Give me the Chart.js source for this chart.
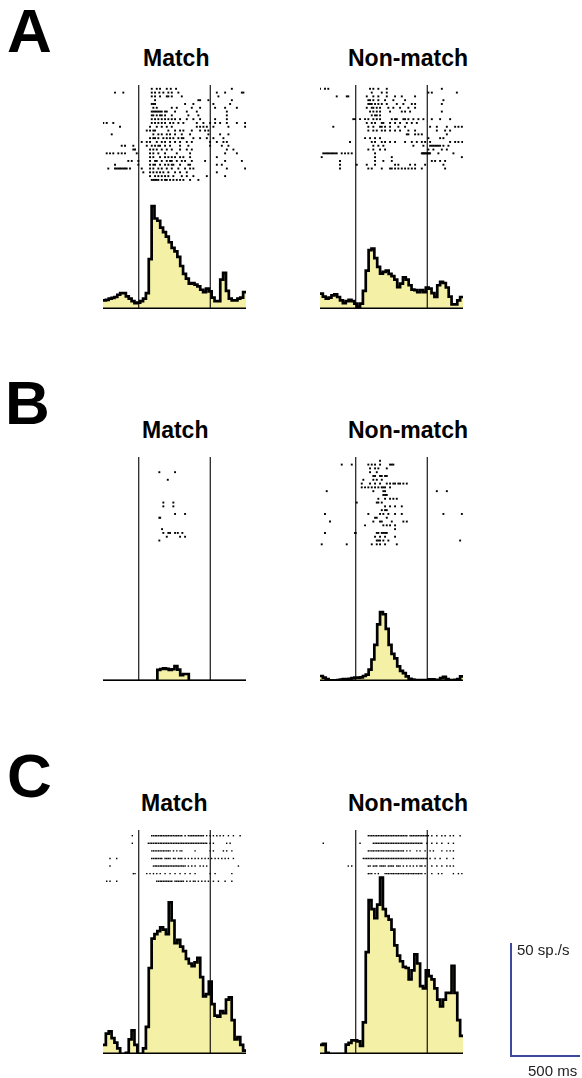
<!DOCTYPE html>
<html>
<head>
<meta charset="utf-8">
<script src="https://cdn.jsdelivr.net/npm/chart.js@4.4.1/dist/chart.umd.min.js"></script>
<style>
html,body{margin:0;padding:0;background:#fff;}
body{width:582px;height:1078px;position:relative;overflow:hidden;font-family:"Liberation Sans",Arial,sans-serif;}
canvas,.t{position:absolute;}
.t{line-height:1;white-space:nowrap;color:#000;font-weight:bold;}
.letter{font-size:62px;}
.title{font-size:23px;}
.scale{font-size:15px;font-weight:normal;color:#222;}
</style>
</head>
<body>
<div class="t letter" style="left:7px;top:0px">A</div>
<div class="t letter" style="left:5px;top:372px">B</div>
<div class="t letter" style="left:7px;top:745px">C</div>

<div class="t title" style="left:143px;top:47px">Match</div>
<div class="t title" style="left:348px;top:47px">Non-match</div>
<div class="t title" style="left:142px;top:419px">Match</div>
<div class="t title" style="left:348px;top:419px">Non-match</div>
<div class="t title" style="left:141px;top:792px">Match</div>
<div class="t title" style="left:348px;top:792px">Non-match</div>

<canvas id="matchA" width="155" height="236" style="left:97px;top:79px"></canvas>
<canvas id="nonA" width="155" height="236" style="left:314px;top:79px"></canvas>
<canvas id="matchB" width="155" height="236" style="left:97px;top:451px"></canvas>
<canvas id="nonB" width="155" height="236" style="left:314px;top:451px"></canvas>
<canvas id="matchC" width="155" height="236" style="left:97px;top:824px"></canvas>
<canvas id="nonC" width="155" height="236" style="left:314px;top:824px"></canvas>
<canvas id="scaleBar" width="81" height="125" style="left:505px;top:937px"></canvas>

<div class="t scale" style="left:517px;top:942px">50 sp./s</div>
<div class="t scale" style="left:528px;top:1063px">500 ms</div>

<script>
// time axis (ms from sample onset), 20 ms bins
const binEdges=[-250,-230,-210,-190,-170,-150,-130,-110,-90,-70,-50,-30,-10,10,30,50,70,90,110,130,150,170,190,210,230,250,270,290,310,330,350,370,390,410,430,450,470,490,510,530,550,570,590,610,630,650,670,690,710,730,750];
const stimOn=0, stimOff=500;

// firing rate (sp/s) per bin
const psthMatchA=[3.8,4,4.6,4.9,5.3,6.3,7,7,5.6,4.6,3.5,2.6,2.8,3.5,4.6,7,22,45.5,40,39,36,34,32,29.5,27,25.5,23,19,15.5,13.4,11.2,11.5,10.8,10,8.5,7.5,9,7.8,5,3.5,3.5,13,16,8,4.6,3.8,3.8,4.6,5,7.5];
const psthNonA=[6.8,5.5,4.6,5,6,6.5,5.3,3.8,2.6,3.5,4,3.5,2.4,1,2.4,8,17,26,26.7,22.5,18.6,15.6,16.4,17,15.5,14.5,13,9.7,11.2,14,13,10.5,8.6,8.3,7.5,8.3,7.5,9.5,9,7,5.3,10.5,12,11.5,9.5,5.5,2,2,3.8,5.3];
const psthMatchB=[0,0,0,0,0,0,0,0,0,0,0,0,0,0,0,0,0,0,0,4.9,5.3,5.6,5.4,4.9,5.2,6.6,5,2.6,3.1,3.1,0,0,0,0,0,0,0,0,0,0,0,0,0,0,0,0,0,0,0,0];
const psthNonB=[2.2,1.5,0.8,0.3,0.3,0.3,0.4,0.6,0.8,0.8,0.9,1.3,1.5,1.5,1.6,2.2,2.8,5,9.5,16,25,30.5,29.5,23,16,12,10,6.5,4.5,3.5,2,1,0.6,0.4,0.4,0.4,0.4,0.3,0.7,0.7,0.5,0.5,1.3,1.8,0.8,0.4,0.4,0.5,0.8,2];
const psthMatchC=[4,9,10,7,5,2.5,0,0,0.5,6.5,10.5,4,0,0,2.5,12,38,51,53,54.3,56,55,53,67,59,49,50.5,47.5,45.5,42,40,38.8,40.5,42.5,34,25.5,26.5,32,22,17,16.5,19,18,24,25,15,6.5,7.5,4,1.5];
const psthNonC=[4,4.5,0.5,0,0,0,0,0,0,4.1,4.9,6,6,5.6,3.6,14,45,68,64,60,66,78,64,61,59.4,55,48,43.5,41,38.5,38,33,37,44,40,30,29,37,34.4,33,29,24,21,24,27,27,39,27,15,8];

// spike times (ms), one array per trial
const rasterMatchA=[
[91,126,149,196,224,261,651],
[-166,-108,91,114,144,172,207,231,277,546,604,721,732],
[91,114,149,196,207,231,301,557],
[114,417,429,487,651],
[91,102,114,324,382,522,639],
[102,126,231,266,371,429,534,604,686],
[91,102,114,126,137,149,161,184,196,254,336,406,616],
[91,102,126,149,161,184,231,347,417,616],
[91,114,137,161,184,207,231,254,289,336,382,429,534,616],
[-248,-224,-178,91,114,137,161,184,219,242,277,312,406,452,499,534,569,616,686,744],
[-131,79,126,161,196,231,406,429,452,476,522,627,744],
[56,79,102,114,207,254,289,312,371,429,464,487],
[-189,102,137,161,196,219,254,301,359,487,569,627],
[79,102,114,137,172,196,219,242,277,301,312,382,429,476,522,592],
[21,56,79,126,161,184,219,254,289,336,371,499,546,592,616],
[-119,-96,-38,56,91,114,137,149,184,219,289,347,499,581,627],
[-38,-26,79,102,126,161,196,231,289,336,371,616,662],
[-224,-201,-178,-143,-119,-96,-14,79,102,137,184,266,359,604,686],
[79,102,149,184,207,231,254,289,312,359,546],
[-73,-49,-3,79,114,126,161,196,219,231,266,301,324,371,464,604,721],
[-166,-3,79,102,114,149,184,207,231,242,289,347,359,546,581],
[-213,-166,-154,-143,-131,-119,-108,-96,-84,-61,21,79,102,137,161,196,231,277,324,359,382,616,744],
[32,79,102,126,149,172,207,254,289,336,546],
[79,114,137,161,184,207,242,301,336,382,476,604],
[91,102,114,126,137,161,184,196,219,242,266,289,312,359,417]
];
const rasterNonA=[
[-250,-215,-192,100,123,158,217,602],
[112,182,217,508,532,707],
[-133,-63,-52,77,123,158,217,275,322,415],
[88,100,123,158,205,263,345,613],
[88,100,112,135,158,182,217,287,333,392,415,602],
[77,112,123,147,170,228,263,310,368,415],
[100,123,147,170,240,322,345,380,602],
[112,135,147,170],
[-17,-5,30,65,88,123,147,170,252,275,287,333,345,368,403,438,473,532,590,660],
[77,112,135,182,193,240,275,310,357,392,427],
[-157,88,123,170,182,205,240,298,345,520,567,637,695,718,742],
[88,123,147,182,205,240,275,310,368,415,567,625,660],
[357,368,415,438,462,637],
[65,100,135,170,508,590,613],
[-40,112,135,182,205,240,275,345,392,427,462,485,520,660,695,718,745],
[123,158,193,403,473,520,532,543,555,567,578,590,613,648],
[88,123,170,205,508,543,602,637],
[-227,-215,-203,-192,-180,-168,-157,-145,-133,-98,-75,-52,-28,135,462,468,473,479,485,491,497,503,508,514,520,578,683],
[-238,135,252,742],
[-110,135,193,252,532,555,590,625],
[-110,7,77,135,275,298,380,415,485,613],
[-110,88,112,182,240,252,275,298,322,345,368,392,415,462,625]
];
const rasterMatchB=[
[],[],[],
[144,254],
[],
[203],
[],[],[],[],[],
[172,242],
[172,242],
[],
[254,324],
[144,150],
[],[],
[163],
[172,207,219,254,273,305],
[196,289,324],
[144]
];
const rasterNonB=[
[170],
[-98,-28,88,112,135,170,240,252,263],
[100,135,158,217],
[100,147],
[123,135,170,182,205,217],
[53,123,147,182],
[42,100,135,170,217,240,263,275,298,310,333,357],
[42,65,88,112,135,158,182,193,205,240],
[-203,123,193,205,567,637],
[193,205,217],
[158,205,240,263,287],
[7,147,158,182],
[205,240,275,322],
[182,205,217],
[-215,88,170,193,228,275,322,613,742],
[135,147,217],
[-180,123,170,182,252,333,357],
[65,193,217,240,275],
[275],
[-215,-5,0,147,158,182,193,205,217],
[135,170,205,275],
[147,158,170,193,228,730],
[-238,-63,112,147,170,205,287]
];
const rasterMatchC=[
[-45,91,103,115,126,138,150,161,173,184,196,207,219,231,243,254,266,277,289,301,324,347,359,371,382,394,406,417,429,441,452,475,499,522,546,569,592,627,662,709],
[-45,67,79,91,103,115,126,138,150,161,173,184,196,207,219,231,243,254,266,277,289,301,312,324,336,347,359,371,382,394,406,417,429,441,452,464,475,499,522,615,639],
[91,103,115,126,138,150,161,173,184,196,207,219,243,266,289,301,394,499,522,592,615,651],
[-201,-154,91,103,115,126,138,150,161,184,196,207,219,243,254,277,289,301,324,347,371,394,417,441,464,487,510,534,557,581,604,627,662],
[-201,103,115,126,138,150,161,173,184,196,207,219,231,243,254,266,277,289,301,312,324,347,371,394,429,452,475,697],
[-38,-26,56,79,103,126,150,184,219,254,289,324,359,394,499,534,651],
[-224,-201,-154,126,138,150,161,173,184,196,207,219,231,254,266,277,289,301,312,336,359,382,394,417,441,464,487,522,557,604,651]
];
const rasterNonC=[
[88,100,112,123,135,147,158,170,182,193,205,217,228,240,252,263,275,287,298,310,322,333,345,357,380,392,403,415,427,438,450,462,473,485,497,508,532,567,602,625,660,683,730],
[-227,30,123,135,147,158,170,182,193,205,217,228,240,252,263,275,287,298,310,322,333,345,357,368,380,392,403,415,427,438,450,462,497,532,567,602,648,683],
[88,100,112,123,135,147,158,170,182,193,205,217,228,240,252,263,275,287,298,310,322,333,357,380,427,450,485,520,543,602,637,660,683],
[53,65,77,88,100,112,123,135,147,158,170,182,193,205,217,228,240,252,263,275,287,298,310,322,333,345,357,368,380,392,403,415,427,438,450,462,473,485,497,520,555,590,637,683],
[-52,-28,88,100,123,135,147,170,182,193,205,228,240,252,263,287,298,310,333,357,380,403,427,450,462,485,532,567,602,637,660,683],
[88,100,112,135,158,205,217,228,240,252,263,275,287,298,310,322,333,345,357,368,380,392,403,415,427,438,450,462,485,532,578,602,683,718,742]
];

// scale bar: 500 ms x 50 sp/s
const scaleMs=500, scaleRate=50;

const RATE_MAX=99;

function drawPanel(id,psth,raster,trialMin,trialMax,dot){
  const hist=binEdges.map((x,i)=>({x:x,y:psth[Math.min(i,psth.length-1)]}));
  const spikes=[];
  raster.forEach((trial,k)=>trial.forEach(t=>spikes.push({x:t,y:k})));
  new Chart(document.getElementById(id),{
    type:'line',
    data:{datasets:[
      {data:[{x:stimOn,y:0},{x:stimOn,y:RATE_MAX}],borderColor:'#000',borderWidth:1.1,pointRadius:0,order:1},
      {data:[{x:stimOff,y:0},{x:stimOff,y:RATE_MAX}],borderColor:'#000',borderWidth:1.1,pointRadius:0,order:1},
      {data:[{x:binEdges[0],y:0},{x:binEdges[binEdges.length-1],y:0}],borderColor:'#000',borderWidth:3,pointRadius:0,order:0},
      {data:spikes,yAxisID:'trial',showLine:false,pointStyle:'rect',pointRadius:dot,pointBackgroundColor:'#000',pointBorderWidth:0,order:2},
      {data:hist,stepped:'before',fill:'origin',backgroundColor:'#f4f0a5',borderColor:'#000',borderWidth:2.7,pointRadius:0,order:3}
    ]},
    options:{
      responsive:false,animation:false,events:[],
      layout:{padding:6},
      plugins:{legend:{display:false},tooltip:{enabled:false}},
      scales:{
        x:{type:'linear',min:binEdges[0],max:binEdges[binEdges.length-1],display:false},
        y:{min:0,max:RATE_MAX,display:false},
        trial:{type:'linear',reverse:true,min:trialMin,max:trialMax,display:false}
      }
    }
  });
}

drawPanel('matchA',psthMatchA,rasterMatchA,-1,58,1.35);
drawPanel('nonA',psthNonA,rasterNonA,-1,58,1.35);
drawPanel('matchB',psthMatchB,rasterMatchB,-1,58,1.35);
drawPanel('nonB',psthNonB,rasterNonB,-1,58,1.35);
drawPanel('matchC',psthMatchC,rasterMatchC,-0.75,28.75,1.0);
drawPanel('nonC',psthNonC,rasterNonC,-0.75,28.75,1.0);

new Chart(document.getElementById('scaleBar'),{
  type:'line',
  data:{datasets:[
    {data:[{x:0,y:scaleRate},{x:0,y:0},{x:scaleMs,y:0}],borderColor:'#3a4a9e',borderWidth:2,pointRadius:0,clip:false}
  ]},
  options:{
    responsive:false,animation:false,events:[],
    layout:{padding:6},
    plugins:{legend:{display:false},tooltip:{enabled:false}},
    scales:{x:{type:'linear',min:0,max:scaleMs,display:false},y:{min:0,max:scaleRate,display:false}}
  }
});
</script>
</body>
</html>
